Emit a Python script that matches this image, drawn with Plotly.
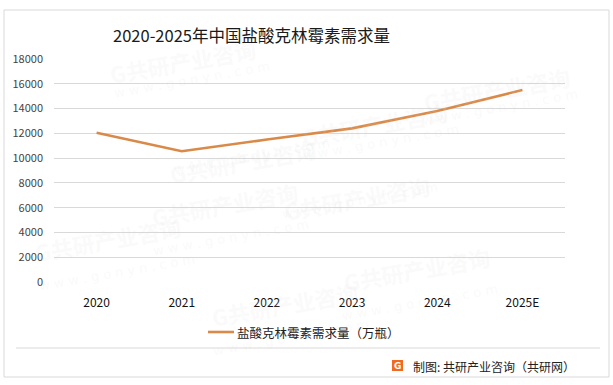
import plotly.graph_objects as go

years = ["2020", "2021", "2022", "2023", "2024", "2025E"]
demand = [12050, 10550, 11500, 12400, 13800, 15500]
series_name = "盐酸克林霉素需求量（万瓶）"
title_text = "2020-2025年中国盐酸克林霉素需求量"
source_text = "制图: 共研产业咨询（共研网）"
y_ticks = [0, 2000, 4000, 6000, 8000, 10000, 12000, 14000, 16000, 18000]

W, H = 613, 385
L, R, T, B = 54, 565, 59, 282
FONT = "Noto Sans CJK SC"
LINE_COLOR = "#DA8A48"


def px(x):
    return (x - L) / (R - L)


def py(y):
    return (B - y) / (B - T)


fig = go.Figure()
fig.add_trace(go.Scatter(
    x=years, y=demand, mode="lines", name=series_name,
    line=dict(color=LINE_COLOR, width=2.6), showlegend=False,
))

shapes = [
    dict(type="rect", xref="paper", yref="paper", x0=px(4), x1=px(609), y0=py(377), y1=py(10),
         line=dict(color="#D9D9D9", width=1), fillcolor="rgba(0,0,0,0)", layer="below"),
    dict(type="line", xref="paper", yref="paper", x0=px(16), x1=px(600), y0=py(348), y1=py(348),
         line=dict(color="#D9D9D9", width=1)),
    dict(type="rect", xref="paper", yref="paper", x0=px(392), x1=px(403), y0=py(371), y1=py(360),
         line=dict(width=0), fillcolor="#F26A21"),
    # legend sample line
    dict(type="line", xref="paper", yref="paper", x0=px(208), x1=px(234), y0=py(332), y1=py(332),
         line=dict(color=LINE_COLOR, width=2.6)),
]

annotations = []
# faint watermarks on a regular lattice
wm_centers = [(165, 130), (375, 93), (575, 58), (105, 30),
              (225, 235), (435, 198), (30, 270),
              (285, 335), (495, 300)]
for cx, cy in wm_centers:
    annotations.append(dict(
        xref="paper", yref="paper", x=px(cx), y=py(cy), showarrow=False,
        text="<b>G共研产业咨询</b>", textangle=-10,
        font=dict(family=FONT, size=22, color="rgba(215,215,215,0.15)")))
    annotations.append(dict(
        xref="paper", yref="paper", x=px(cx + 6), y=py(cy + 26), showarrow=False,
        text="w w w . g o n y n . c o m", textangle=-10,
        font=dict(family="DejaVu Sans", size=13, color="rgba(215,215,215,0.15)")))

annotations += [
    dict(xref="paper", yref="paper", x=px(251), y=py(35), showarrow=False,
         text=title_text, font=dict(family=FONT, size=16.5, color="#1a1a1a"),
         xanchor="center", yanchor="middle"),
    dict(xref="paper", yref="paper", x=px(235), y=py(332), showarrow=False,
         text=series_name, font=dict(family=FONT, size=12.5, color="#222222"),
         xanchor="left", yanchor="middle"),
    dict(xref="paper", yref="paper", x=px(411), y=py(366), showarrow=False,
         text=source_text, font=dict(family=FONT, size=12, color="#222222"),
         xanchor="left", yanchor="middle"),
    dict(xref="paper", yref="paper", x=px(397.5), y=py(365.5), showarrow=False,
         text="<b>G</b>", font=dict(family="DejaVu Sans", size=9, color="white"),
         xanchor="center", yanchor="middle"),
]

fig.update_layout(
    width=W, height=H,
    margin=dict(l=L, r=W - R, t=T, b=H - B, pad=0, autoexpand=False),
    paper_bgcolor="white", plot_bgcolor="white",
    font=dict(family=FONT, size=11, color="#333333"),
    showlegend=False,
    shapes=shapes,
    annotations=annotations,
    xaxis=dict(range=[-0.5, 5.5], showgrid=False, showline=False, zeroline=False, ticks="",
               ticklabelstandoff=12,
               tickfont=dict(family=FONT, size=12, color="#111111")),
    yaxis=dict(range=[0, 18000], tickvals=y_ticks, ticktext=[str(v) for v in y_ticks],
               showgrid=True, gridcolor="#D9D9D9", gridwidth=1, zeroline=False,
               showline=False, ticks="", ticklabelstandoff=10,
               tickfont=dict(family=FONT, size=11, color="#444444")),
)

fig.write_html("out.html", config={"displayModeBar": False},
               post_script="document.body.style.margin='0';")
